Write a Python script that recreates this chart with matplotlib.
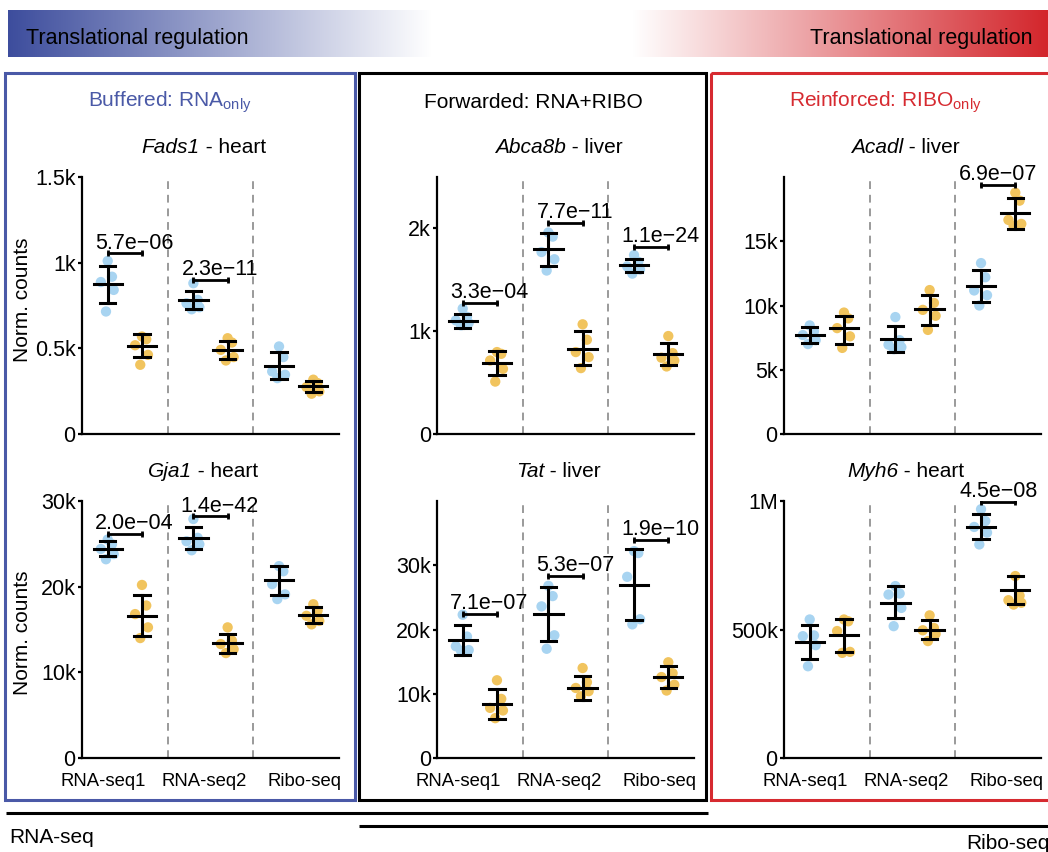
import matplotlib.pyplot as plt
import numpy as np
from matplotlib.colors import LinearSegmentedColormap
from matplotlib.patches import Rectangle

plt.rcParams['font.family'] = ['Liberation Sans', 'DejaVu Sans']
plt.rcParams['mathtext.fontset'] = 'custom'
plt.rcParams['mathtext.rm'] = 'Liberation Sans'
plt.rcParams['mathtext.it'] = 'Liberation Sans:italic'

W, H = 1048, 852
BLUE = '#4a59a7'
RED = '#d62a30'
PT_BLUE = '#a8d4f1'
PT_ORANGE = '#f1c45e'

groups = ['RNA-seq1', 'RNA-seq2', 'Ribo-seq']

# ---- data: points per group, (mean, lo, hi) per group, p-value brackets
fads1_blue = [[1010, 918, 887, 841, 715], [880, 783, 763, 740, 728], [511, 449, 365, 346, 326]]
fads1_blue_stats = [(874, 767, 981), (783, 728, 837), (398, 320, 476)]
fads1_orange = [[569, 553, 518, 462, 404], [559, 534, 491, 449, 429], [317, 297, 274, 249, 235]]
fads1_orange_stats = [(515, 447, 583), (491, 437, 540), (278, 243, 309)]
fads1_p = [(0, '5.7e−06', 1054), (1, '2.3e−11', 899)]

gja1_blue = [[25500, 24950, 24400, 23800, 23200], [27900, 25700, 25300, 24950, 24250], [22400, 21800, 20300, 19100, 18550]]
gja1_blue_stats = [(24450, 23590, 25340), (25650, 24400, 27000), (20760, 19000, 22400)]
gja1_orange = [[20200, 17800, 16800, 15250, 14000], [15250, 13700, 13300, 12700, 12250], [17950, 17200, 16600, 16000, 15600]]
gja1_orange_stats = [(16600, 14200, 19000), (13400, 12300, 14500), (16700, 15750, 17600)]
gja1_p = [(0, '2.0e−04', 26200), (1, '1.4e−42', 28200)]

abca8b_blue = [[1220, 1140, 1105, 1080, 1057], [1960, 1920, 1770, 1700, 1590], [1740, 1675, 1630, 1600, 1560]]
abca8b_blue_stats = [(1100, 1031, 1164), (1795, 1636, 1951), (1642, 1577, 1704)]
abca8b_orange = [[797, 780, 715, 634, 510], [1067, 917, 797, 748, 641], [953, 787, 742, 715, 657]]
abca8b_orange_stats = [(690, 576, 803), (829, 667, 998), (777, 667, 885)]
abca8b_p = [(0, '3.3e−04', 1275), (1, '7.7e−11', 2055), (2, '1.1e−24', 1820)]

tat_blue = [[22300, 18900, 17400, 16800, 16700], [26800, 25200, 23600, 19100, 17000], [32200, 31900, 28200, 21600, 20800]]
tat_blue_stats = [(18400, 16100, 20700), (22400, 18200, 26600), (26900, 21500, 32500)]
tat_orange = [[12100, 9200, 7800, 7400, 6200], [14000, 11800, 10900, 10400, 9600], [14900, 13200, 12600, 11400, 10500]]
tat_orange_stats = [(8450, 6100, 10800), (10900, 9100, 12700), (12600, 10900, 14250)]
tat_p = [(0, '7.1e−07', 22400), (1, '5.3e−07', 28300), (2, '1.9e−10', 34000)]

acadl_blue = [[8450, 8000, 7700, 7300, 7000], [9100, 7300, 6950, 6760, 6600], [13300, 12200, 11170, 10800, 10000]]
acadl_blue_stats = [(7700, 7100, 8300), (7380, 6350, 8370), (11500, 10260, 12770)]
acadl_orange = [[9450, 9000, 8240, 7600, 6700], [11200, 10200, 9660, 9200, 8100], [18780, 18160, 16660, 16350, 16200]]
acadl_orange_stats = [(8240, 7000, 9200), (9700, 8500, 10800), (17180, 15980, 18370)]
acadl_p = [(2, '6.9e−07', 19380)]

myh6_blue = [[539000, 477000, 474000, 439000, 357000], [669000, 640000, 636000, 584000, 513000], [968000, 922000, 899000, 877000, 831000]]
myh6_blue_stats = [(452000, 387000, 517000), (603000, 545000, 669000), (899000, 851000, 948000)]
myh6_orange = [[539000, 532000, 494000, 413000, 409000], [555000, 506000, 497000, 483000, 455000], [708000, 632000, 614000, 604000, 597000]]
myh6_orange_stats = [(478000, 414000, 542000), (500000, 464000, 536000), (652000, 600000, 708000)]
myh6_p = [(2, '4.5e−08', 997000)]

# gene, tissue, blue, blue stats, orange, orange stats, p, ylim, yticks, yticklabels
panels = [
    ('Fads1', 'heart', fads1_blue, fads1_blue_stats, fads1_orange, fads1_orange_stats, fads1_p,
     1500, [0, 500, 1000, 1500], ['0', '0.5k', '1k', '1.5k']),
    ('Gja1', 'heart', gja1_blue, gja1_blue_stats, gja1_orange, gja1_orange_stats, gja1_p,
     30000, [0, 10000, 20000, 30000], ['0', '10k', '20k', '30k']),
    ('Abca8b', 'liver', abca8b_blue, abca8b_blue_stats, abca8b_orange, abca8b_orange_stats, abca8b_p,
     2500, [0, 1000, 2000], ['0', '1k', '2k']),
    ('Tat', 'liver', tat_blue, tat_blue_stats, tat_orange, tat_orange_stats, tat_p,
     40000, [0, 10000, 20000, 30000], ['0', '10k', '20k', '30k']),
    ('Acadl', 'liver', acadl_blue, acadl_blue_stats, acadl_orange, acadl_orange_stats, acadl_p,
     20000, [0, 5000, 10000, 15000], ['0', '5k', '10k', '15k']),
    ('Myh6', 'heart', myh6_blue, myh6_blue_stats, myh6_orange, myh6_orange_stats, myh6_p,
     1000000, [0, 500000, 1000000], ['0', '500k', '1M']),
]

# layout (pixels)
col_x = [82, 437, 784]
ax_w = 257
row_y = [(177, 434), (501, 758)]
ylab_y = [300, 633]
JIT = [0.0, 0.05, -0.08, 0.07, -0.02]

fig = plt.figure(figsize=(W / 100, H / 100), dpi=100)

ov = fig.add_axes([0, 0, 1, 1])
ov.axis('off')

grad = np.linspace(0, 1, 256).reshape(1, -1)
ov.imshow(grad, cmap=LinearSegmentedColormap.from_list('bl', ['#3d4d9d', '#ffffff']),
          extent=[8, 432, 57, 10], aspect='auto')
ov.imshow(grad, cmap=LinearSegmentedColormap.from_list('rd', ['#ffffff', '#d3262c']),
          extent=[632, 1048, 57, 10], aspect='auto')
ov.set_xlim(0, W)
ov.set_ylim(H, 0)
ov.text(26, 44, 'Translational regulation', fontsize=15.5, va='baseline')
ov.text(1032, 44, 'Translational regulation', fontsize=15.5, va='baseline', ha='right')

ov.add_patch(Rectangle((5, 73), 350, 727, fill=False, ec=BLUE, lw=2.2))
ov.add_patch(Rectangle((359, 73), 347, 727, fill=False, ec='black', lw=2.2))
ov.add_patch(Rectangle((711, 73), 345, 727, fill=False, ec=RED, lw=2.2))

ov.text(170, 102, r'Buffered: RNA$_{\mathregular{only}}$', color=BLUE, fontsize=15, ha='center', va='center')
ov.text(533, 102, 'Forwarded: RNA+RIBO', color='black', fontsize=15, ha='center', va='center')
ov.text(885, 102, r'Reinforced: RIBO$_{\mathregular{only}}$', color=RED, fontsize=15, ha='center', va='center')

ov.plot([6, 708], [813, 813], color='black', lw=2.2, solid_capstyle='butt')
ov.plot([359, 1048], [826, 826], color='black', lw=2.2, solid_capstyle='butt')
ov.text(9, 843, 'RNA-seq', fontsize=15, va='baseline')
ov.text(966, 849, 'Ribo-seq', fontsize=15, va='baseline')

for r in range(2):
    ov.text(23, ylab_y[r], 'Norm. counts', fontsize=15, rotation=90, ha='center', va='center')

renderer = fig.canvas.get_renderer()
titles = []

for i, (gene, tissue, bl, bls, orr, ors, pv, ymax, yt, ytl) in enumerate(panels):
    c, r = i // 2, i % 2
    x0 = col_x[c]
    y0, y1 = row_y[r]
    ax = fig.add_axes([x0 / W, 1 - y1 / H, ax_w / W, (y1 - y0) / H])
    ax.set_xlim(0, 3)
    ax.set_ylim(0, ymax)
    ax.patch.set_alpha(0)
    for s in ['top', 'right']:
        ax.spines[s].set_visible(False)
    for s in ['left', 'bottom']:
        ax.spines[s].set_linewidth(1.6)
    for g in [1, 2]:
        ax.axvline(g, color='#9a9a9a', lw=1.4, ls=(0, (4, 3)), zorder=1)

    for g in range(3):
        for pts, st, dx, col in [(bl[g], bls[g], 0.3, PT_BLUE), (orr[g], ors[g], 0.7, PT_ORANGE)]:
            xc = g + dx
            ax.scatter([xc + j for j in JIT[:len(pts)]], pts, s=55, color=col,
                       edgecolors='none', zorder=2)
            m, lo, hi = st
            ax.plot([xc, xc], [lo, hi], color='black', lw=2.2, zorder=3)
            ax.plot([xc - 0.09, xc + 0.09], [lo, lo], color='black', lw=2.2, zorder=3)
            ax.plot([xc - 0.09, xc + 0.09], [hi, hi], color='black', lw=2.2, zorder=3)
            ax.plot([xc - 0.165, xc + 0.165], [m, m], color='black', lw=2.2, zorder=3)

    for g, lab, yb in pv:
        ax.plot([g + 0.3, g + 0.7], [yb, yb], color='black', lw=2.0, zorder=3,
                marker='|', markersize=5, markeredgewidth=2.0)
        shift = 0.0 if c == 2 else 0.11
        ax.annotate(lab, (g + 0.5 + shift, yb), xytext=(0, 3.5), textcoords='offset points',
                    ha='center', va='baseline', fontsize=15.5, clip_on=False)

    ax.set_yticks(yt)
    ax.set_yticklabels(ytl, fontsize=15.5)
    ax.tick_params(axis='y', length=3, width=1.6, pad=1.5)
    if r == 1:
        ax.set_xticks([0.245, 1.42, 2.6])
        ax.set_xticklabels(groups, fontsize=13.3)
        ax.tick_params(axis='x', length=0, pad=10.5)
    else:
        ax.set_xticks([])

    # panel title: italic gene name followed by the tissue, centred as one line
    xc_t = x0 + ax_w / 2 - 7
    t1 = ov.text(xc_t, y0 - 24, gene, style='italic', fontsize=15, ha='left', va='baseline')
    t2 = ov.annotate(' - ' + tissue, xy=(1, 0), xycoords=t1, va='bottom', ha='left', fontsize=15)
    titles.append((t1, t2, xc_t))

for t1, t2, xc_t in titles:
    w = t1.get_window_extent(renderer).width + t2.get_window_extent(renderer).width
    t1.set_x(xc_t - w / 2)

fig.savefig('out.png', dpi=100)
